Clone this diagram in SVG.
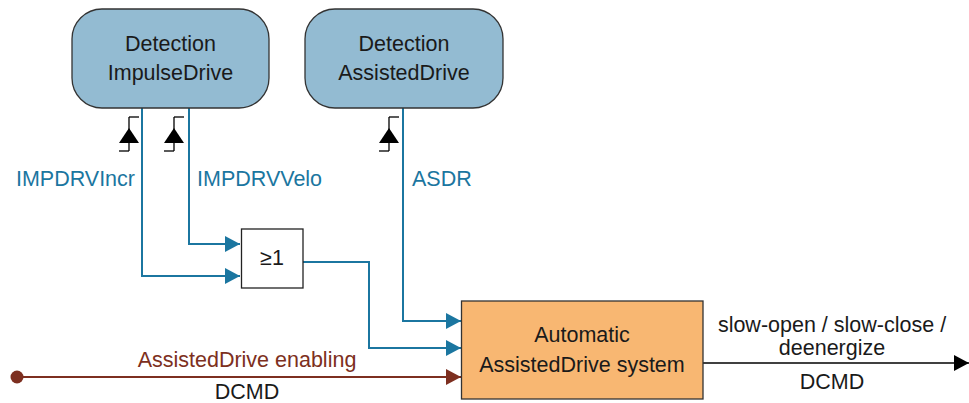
<svg xmlns="http://www.w3.org/2000/svg" width="969" height="403" viewBox="0 0 969 403">
<defs>
<style>
text{font-family:"Liberation Sans",Arial,sans-serif;font-size:21.5px;fill:#1a1a1a}
.blue{fill:#1b76a0}
.red{fill:#7d2f20}
.det{fill:#93bbd2;stroke:#333;stroke-width:1.3}
.wb{stroke:#1b76a0;stroke-width:2;fill:none}
.wr{stroke:#7d2f20;stroke-width:2;fill:none}
.wk{stroke:#000;stroke-width:1.5;fill:none}
.edge line{stroke:#000;stroke-width:1.3}
</style>
<marker id="ab" markerUnits="userSpaceOnUse" markerWidth="15" markerHeight="16" viewBox="0 0 15 16" refX="15" refY="8" orient="auto"><path d="M0,0L15,8L0,16z" fill="#1b76a0"/></marker>
<marker id="ar" markerUnits="userSpaceOnUse" markerWidth="15" markerHeight="16" viewBox="0 0 15 16" refX="15" refY="8" orient="auto"><path d="M0,0L15,8L0,16z" fill="#7d2f20"/></marker>
<marker id="ak" markerUnits="userSpaceOnUse" markerWidth="15" markerHeight="16" viewBox="0 0 15 16" refX="15" refY="8" orient="auto"><path d="M0,0L15,8L0,16z" fill="#000"/></marker>
<g id="edgeSym" class="edge">
<line x1="0" y1="0" x2="10" y2="0"/>
<line x1="0" y1="0" x2="0" y2="34"/>
<line x1="-10" y1="34" x2="0" y2="34"/>
<path d="M0,11L10,26L-10,26z" fill="#000"/>
</g>
</defs>
<rect width="969" height="403" fill="#fff"/>

<g id="connectors">
<polyline class="wb" points="142,108 142,276 240,276" marker-end="url(#ab)"/>
<polyline class="wb" points="189,108 189,244 240,244" marker-end="url(#ab)"/>
<polyline class="wb" points="303,262 369,262 369,348 461,348" marker-end="url(#ab)"/>
<polyline class="wb" points="403,108 403,321 461,321" marker-end="url(#ab)"/>
<line class="wr" x1="17" y1="377" x2="461" y2="377" marker-end="url(#ar)"/>
<circle cx="17" cy="377" r="6.5" fill="#7d2f20"/>
<line class="wk" x1="703" y1="363" x2="969" y2="363" marker-end="url(#ak)"/>
<use href="#edgeSym" x="129" y="117"/>
<use href="#edgeSym" x="174" y="117"/>
<use href="#edgeSym" x="389" y="117"/>
<text class="blue" x="135" y="186" text-anchor="end">IMPDRVIncr</text>
<text class="blue" x="197" y="186">IMPDRVVelo</text>
<text class="blue" x="412" y="186">ASDR</text>
<text class="red" x="247" y="367" text-anchor="middle">AssistedDrive enabling</text>
<text x="247" y="399" text-anchor="middle">DCMD</text>
<text x="832" y="332" text-anchor="middle">slow-open / slow-close /</text>
<text x="832" y="355" text-anchor="middle">deenergize</text>
<text x="832" y="389" text-anchor="middle">DCMD</text>
</g>

<g id="detImpulse">
<rect class="det" x="72" y="9" width="197" height="99" rx="30"/>
<text x="170.5" y="51" text-anchor="middle">Detection</text>
<text x="170.5" y="80" text-anchor="middle">ImpulseDrive</text>
</g>
<g id="detAssisted">
<rect class="det" x="305" y="9" width="198" height="99" rx="30"/>
<text x="404" y="51" text-anchor="middle">Detection</text>
<text x="404" y="80" text-anchor="middle">AssistedDrive</text>
</g>
<g id="orGate">
<rect x="241.5" y="229" width="61.5" height="59" fill="#fff" stroke="#222" stroke-width="1.3"/>
<text x="272" y="265" text-anchor="middle">≥1</text>
</g>
<g id="autoSystem">
<rect x="461.5" y="301" width="241.5" height="98" fill="#f8b772" stroke="#333" stroke-width="1.3"/>
<text x="582" y="342" text-anchor="middle">Automatic</text>
<text x="582" y="372" text-anchor="middle">AssistedDrive system</text>
</g>
</svg>
